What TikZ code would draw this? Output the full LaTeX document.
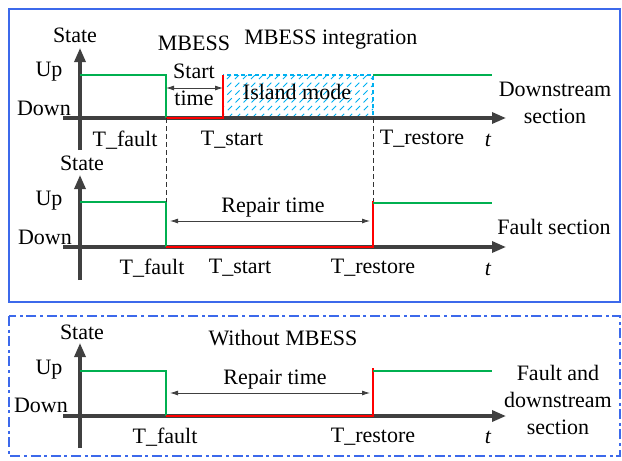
\documentclass[tikz,border=0pt]{standalone}
\usepackage{fontspec}
\setmainfont{Liberation Serif}
\usetikzlibrary{arrows.meta}
\definecolor{upgreen}{RGB}{0,176,80}
\definecolor{downred}{RGB}{255,0,0}
\definecolor{axisgray}{RGB}{64,64,64}
\definecolor{frameblue}{RGB}{60,105,235}
\definecolor{islandcyan}{RGB}{0,176,240}
\begin{document}
\begin{tikzpicture}[x=0.5pt,y=-0.5pt]
	      \tikzstyle{every node}=[font=\fontsize{11}{13.5}\selectfont,inner sep=0pt]
	      \tikzstyle{axis}=[line width=1.6pt,axisgray,-{Triangle[length=7pt,width=5.5pt]}]
	      \tikzstyle{upline}=[line width=1.3pt,upgreen]
	      \tikzstyle{downline}=[line width=1.3pt,downred]
	      \tikzstyle{span}=[line width=0.4pt,axisgray,{Latex[length=4pt,width=2.5pt]}-{Latex[length=4pt,width=2.5pt]}]
	      \tikzstyle{guide}=[line width=0.4pt,black!80,dash pattern=on 2.5pt off 1.5pt]
	      \useasboundingbox (0,0) rectangle (622,461);
	      % frames
	      \draw[frameblue,line width=0.8pt](9,9) rectangle (620,302);
	      \draw[frameblue,line width=0.8pt,dash pattern=on 5pt off 1.8pt on 1.5pt off 1.8pt](9,316) rectangle (620,456);
	      % island mode area
	      \coordinate (isl-a) at (223,75);
	      \coordinate (isl-b) at (373,118);
	      \begin{scope}
	        \clip (isl-a) rectangle (isl-b);
	        \foreach \x in {180,188,...,380}
	          \draw[islandcyan,line width=0.45pt,dash pattern=on 3pt off 2.5pt](\x,118)--++(43,-43);
	      \end{scope}
	      \draw[islandcyan,line width=1pt,dash pattern=on 2pt off 1.5pt](isl-a) rectangle (isl-b);
	      % axes
	      \foreach \n/\y/\top/\bot in {1/118/48/150,2/247/175/280,3/416/343/448}{
	        \coordinate (h\n) at (63,\y);
	        \coordinate (hend\n) at (506,\y);
	        \coordinate (v\n) at (80,\bot);
	        \coordinate (vend\n) at (80,\top);
	        \draw[axis](h\n)--(hend\n);
	        \draw[axis](v\n)--(vend\n);
	      }
	      % downstream section
	      \coordinate (up1) at (80,75);
	      \coordinate (fault1) at (166,75);
	      \coordinate (fault1b) at (166,118);
	      \coordinate (start1) at (223,118);
	      \coordinate (start1b) at (223,75);
	      \coordinate (rest1) at (373,75);
	      \coordinate (end1) at (492,75);
	      \draw[upline](up1)--(fault1)--(fault1b);
	      \draw[downline](fault1b)--(start1)--(start1b);
	      \draw[upline](rest1)--(end1);
	      % fault section
	      \coordinate (up2) at (80,202);
	      \coordinate (fault2) at (166,202);
	      \coordinate (fault2b) at (166,247);
	      \coordinate (rest2b) at (373,247);
	      \coordinate (rest2) at (373,201);
	      \coordinate (green2) at (373,203);
	      \coordinate (end2) at (492,203);
	      \draw[upline](up2)--(fault2)--(fault2b);
	      \draw[downline](fault2b)--(rest2b)--(rest2);
	      \draw[upline](green2)--(end2);
	      % without MBESS
	      \coordinate (up3) at (80,371);
	      \coordinate (fault3) at (166,371);
	      \coordinate (fault3b) at (166,416);
	      \coordinate (rest3b) at (373,416);
	      \coordinate (rest3) at (373,368);
	      \coordinate (green3) at (373,371);
	      \coordinate (end3) at (492,371);
	      \draw[upline](up3)--(fault3)--(fault3b);
	      \draw[downline](fault3b)--(rest3b)--(rest3);
	      \draw[upline](green3)--(end3);
	      % guides and spans
	      \draw[guide](fault1b)--(fault2);
	      \draw[guide](isl-b)--(rest2);
	      \coordinate (st-a) at (166,88);
	      \coordinate (st-b) at (223,88);
	      \draw[span](st-a)--(st-b);
	      \coordinate (rp2-a) at (170,221);
	      \coordinate (rp2-b) at (370,221);
	      \draw[span](rp2-a)--(rp2-b);
	      \coordinate (rp3-a) at (170,393);
	      \coordinate (rp3-b) at (370,393);
	      \draw[span](rp3-a)--(rp3-b);
	      % labels, top panel
	      \node (state1) at (75,35){State};
	      \node (uplab1) at (49,72){Up};
	      \node (downlab1) at (44,108){Down};
	      \node (mbess) at (194,43){MBESS};
	      \node[align=center] (starttime) at (194,85){Start\\time};
	      \node[anchor=west] (integ) at (244,40){MBESS integration};
	      \node (island) at (297,92){Island mode};
	      \node (tfault1) at (125,140){T\_fault};
	      \node (tstart1) at (232,140){T\_start};
	      \node (trest1) at (422,139){T\_restore};
	      \node (t1) at (488,140){\itshape t};
	      \node[align=center] (down-sec) at (555,103){Downstream\\section};
	      % labels, middle panel
	      \node (state2) at (82,163){State};
	      \node (uplab2) at (49,201){Up};
	      \node (downlab2) at (45,237){Down};
	      \node (repair2) at (273,208){Repair time};
	      \node (fault-sec) at (554,227){Fault section};
	      \node (tfault2) at (152,268){T\_fault};
	      \node (tstart2) at (240,268){T\_start};
	      \node (trest2) at (373,268){T\_restore};
	      \node (t2) at (488,269){\itshape t};
	      % labels, bottom panel
	      \node (state3) at (82,332){State};
	      \node (uplab3) at (49,370){Up};
	      \node (downlab3) at (41,405){Down};
	      \node (without) at (283,338){Without MBESS};
	      \node (repair3) at (275,380){Repair time};
	      \node (tfault3) at (165,437){T\_fault};
	      \node (trest3) at (373,437){T\_restore};
	      \node (t3) at (488,437){\itshape t};
	      \node[align=center] (both-sec) at (558,400){Fault and\\downstream\\section};
	    \end{tikzpicture}
\end{document}
